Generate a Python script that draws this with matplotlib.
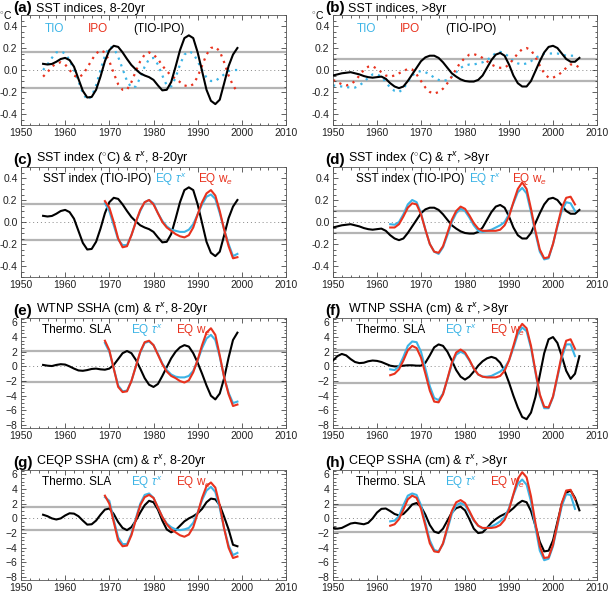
import matplotlib
matplotlib.use('Agg')
import matplotlib.pyplot as plt
import numpy as np
from matplotlib.ticker import MultipleLocator

plt.rcParams['font.family'] = ['Liberation Sans', 'DejaVu Sans']
plt.rcParams['mathtext.fontset'] = 'custom'
plt.rcParams['mathtext.rm'] = 'Liberation Sans'
plt.rcParams['mathtext.it'] = 'Liberation Sans:italic'

# ---------------- data ----------------
yr_hf = list(range(1955, 2000))
yr_lf = list(range(1950, 2007))
yr_lf_tio = list(range(1950, 2006))
yr_eq_hf = list(range(1969, 2000))
yr_eq_lf = list(range(1963, 2006))

# (a) SST indices 8-20yr
sst_diff_hf = [0.056, 0.05, 0.055, 0.075, 0.10, 0.11, 0.09, 0.03, -0.08, -0.19,
               -0.25, -0.245, -0.18, -0.06, 0.08, 0.18, 0.22, 0.21, 0.16, 0.10,
               0.045, 0.005, -0.03, -0.05, -0.065, -0.09, -0.14, -0.185, -0.18, -0.11,
               0.03, 0.18, 0.29, 0.315, 0.29, 0.16, -0.01, -0.18, -0.28, -0.31,
               -0.27, -0.12, 0.035, 0.14, 0.20]
tio_hf = [0.00, 0.05, 0.11, 0.16, 0.17, 0.15, 0.09, 0.00, -0.10, -0.21,
          -0.27, -0.24, -0.14, 0.00, 0.13, 0.21, 0.20, 0.12, 0.01, -0.10,
          -0.16, -0.15, -0.07, 0.03, 0.10, 0.11, 0.05, -0.05, -0.14, -0.15,
          -0.07, 0.05, 0.14, 0.17, 0.15, 0.08, 0.00, -0.07, -0.10, -0.10,
          -0.07, -0.04, -0.01, 0.00, 0.00]
ipo_hf = [-0.06, -0.02, 0.03, 0.06, 0.07, 0.05, 0.00, -0.05, -0.07, -0.04,
          0.02, 0.09, 0.15, 0.18, 0.16, 0.08, -0.03, -0.13, -0.18, -0.18,
          -0.11, -0.01, 0.08, 0.14, 0.16, 0.14, 0.10, 0.04, -0.01, -0.05,
          -0.08, -0.11, -0.14, -0.15, -0.13, -0.06, 0.04, 0.14, 0.20, 0.21,
          0.17, 0.07, -0.05, -0.14, -0.20]

# (b) SST indices >8yr
sst_diff_lf = [-0.05, -0.04, -0.03, -0.025, -0.02, -0.03, -0.04, -0.055, -0.065, -0.07,
               -0.065, -0.06, -0.08, -0.12, -0.15, -0.165, -0.15, -0.10, -0.04, 0.02,
               0.08, 0.115, 0.13, 0.13, 0.11, 0.07, 0.02, -0.03, -0.06, -0.085,
               -0.10, -0.105, -0.105, -0.09, -0.05, 0.02, 0.09, 0.14, 0.155, 0.13,
               0.05, -0.05, -0.12, -0.15, -0.15, -0.10, -0.01, 0.08, 0.16, 0.21,
               0.22, 0.20, 0.15, 0.10, 0.075, 0.075, 0.11]
tio_lf = [-0.14, -0.145, -0.15, -0.155, -0.16, -0.16, -0.14, -0.11, -0.07, -0.04,
          -0.04, -0.06, -0.11, -0.16, -0.19, -0.20, -0.17, -0.11, -0.05, -0.02,
          -0.01, -0.02, -0.04, -0.07, -0.09, -0.10, -0.09, -0.06, -0.02, 0.02,
          0.04, 0.05, 0.05, 0.06, 0.07, 0.09, 0.12, 0.155, 0.165, 0.15,
          0.12, 0.08, 0.06, 0.05, 0.06, 0.08, 0.11, 0.13, 0.15, 0.15,
          0.15, 0.15, 0.14, 0.13, 0.13, 0.13]
ipo_lf = [-0.09, -0.11, -0.13, -0.14, -0.13, -0.10, -0.05, 0.00, 0.03, 0.035,
          0.01, -0.02, -0.05, -0.06, -0.05, -0.03, -0.01, 0.01, 0.005, -0.04,
          -0.10, -0.16, -0.20, -0.215, -0.20, -0.17, -0.12, -0.06, 0.01, 0.07,
          0.11, 0.14, 0.145, 0.13, 0.11, 0.08, 0.05, 0.03, 0.02, 0.02,
          0.05, 0.10, 0.15, 0.19, 0.20, 0.18, 0.12, 0.04, -0.03, -0.07,
          -0.07, -0.05, -0.02, 0.02, 0.05, 0.05, 0.02]

# (c) EQ taux / we 8-20yr (SST units)
taux_c = [0.17, 0.10, -0.03, -0.16, -0.21, -0.21, -0.12, 0.0, 0.10, 0.18,
          0.20, 0.17, 0.08, 0.01, -0.04, -0.07, -0.08, -0.09, -0.09, -0.07,
          -0.02, 0.07, 0.16, 0.23, 0.25, 0.21, 0.08, -0.07, -0.20, -0.31,
          -0.29]
we_c = [0.19, 0.13, 0.0, -0.15, -0.23, -0.22, -0.12, 0.0, 0.11, 0.18,
        0.20, 0.16, 0.08, 0.0, -0.05, -0.08, -0.11, -0.13, -0.14, -0.12,
        -0.05, 0.07, 0.18, 0.26, 0.29, 0.24, 0.10, -0.07, -0.22, -0.33,
        -0.32]

# (d) EQ taux / we >8yr (SST units)
taux_d = [-0.02, -0.025, 0.0, 0.07, 0.16, 0.20, 0.18, 0.08, -0.07, -0.20,
          -0.27, -0.29, -0.23, -0.12, 0.0, 0.08, 0.12, 0.10, 0.04, -0.03,
          -0.08, -0.09, -0.08, -0.07, -0.05, -0.03, 0.0, 0.07, 0.17, 0.27,
          0.31, 0.26, 0.09, -0.10, -0.27, -0.34, -0.33, -0.20, -0.04, 0.10,
          0.18, 0.17, 0.10]
we_d = [-0.05, -0.05, -0.02, 0.05, 0.13, 0.17, 0.16, 0.07, -0.07, -0.20,
        -0.27, -0.28, -0.22, -0.10, 0.02, 0.10, 0.14, 0.12, 0.06, -0.01,
        -0.06, -0.08, -0.08, -0.08, -0.08, -0.07, -0.03, 0.05, 0.18, 0.30,
        0.36, 0.30, 0.12, -0.08, -0.25, -0.33, -0.32, -0.20, -0.03, 0.13,
        0.22, 0.23, 0.16]

# (e) WTNP SSHA 8-20yr
wtnp_hf = [0.2, 0.1, 0.05, 0.2, 0.3, 0.25, 0.0, -0.3, -0.55, -0.6,
           -0.5, -0.35, -0.3, -0.4, -0.45, -0.3, 0.2, 1.0, 1.8, 2.1,
           1.8, 0.9, -0.3, -1.6, -2.5, -2.8, -2.4, -1.3, -0.1, 1.1,
           2.0, 2.6, 2.9, 2.7, 1.8, 0.5, -1.0, -2.6, -4.0, -4.5,
           -3.7, -1.6, 1.2, 3.6, 4.6]
taux_e = [3.2, 2.0, -0.3, -2.6, -3.4, -3.3, -2.0, 0.0, 1.9, 3.2,
          3.4, 2.9, 1.7, 0.4, -0.5, -1.1, -1.4, -1.5, -1.5, -1.3,
          -0.6, 0.8, 2.5, 3.8, 4.3, 3.6, 1.3, -1.5, -3.6, -5.0,
          -4.8]
we_e = [3.5, 2.2, -0.3, -2.8, -3.5, -3.4, -2.0, 0.0, 2.0, 3.3,
        3.5, 2.9, 1.6, 0.3, -0.7, -1.3, -1.6, -2.0, -2.2, -1.9,
        -0.8, 0.9, 2.9, 4.6, 5.2, 4.3, 1.5, -1.5, -3.8, -5.4,
        -5.2]

# (f) WTNP SSHA >8yr
wtnp_lf = [0.8, 1.4, 1.7, 1.5, 1.0, 0.6, 0.45, 0.5, 0.7, 0.8,
           0.75, 0.6, 0.35, 0.1, 0.0, 0.0, 0.1, 0.15, 0.15, 0.1,
           0.1, 0.5, 1.5, 2.6, 3.0, 2.8, 2.0, 0.8, -0.5, -1.4,
           -1.8, -1.4, -0.7, 0.1, 0.7, 1.1, 1.3, 1.1, 0.5, -0.6,
           -2.2, -4.0, -5.6, -6.9, -7.2, -6.3, -4.2, -1.2, 1.8, 3.7,
           4.0, 3.2, 1.4, -0.6, -1.7, -1.0, 1.4]
taux_f = [-0.4, -0.5, 0.0, 1.3, 2.8, 3.4, 3.3, 2.0, -0.3, -2.7,
          -4.3, -4.6, -3.7, -1.8, 0.3, 1.6, 2.0, 1.7, 0.8, -0.3,
          -1.1, -1.4, -1.4, -1.3, -1.0, -0.7, -0.2, 0.8, 2.5, 4.4,
          5.3, 4.8, 2.5, -0.8, -4.0, -5.7, -5.7, -4.2, -1.5, 1.2,
          3.0, 3.0, 1.4]
we_f = [-1.2, -1.0, -0.4, 0.8, 2.2, 2.8, 2.5, 1.2, -1.0, -3.3,
        -4.8, -4.9, -3.8, -1.7, 0.5, 1.9, 2.3, 1.9, 0.9, -0.3,
        -1.1, -1.4, -1.5, -1.5, -1.5, -1.3, -0.6, 0.8, 2.8, 4.9,
        5.8, 5.2, 2.8, -0.6, -3.8, -5.5, -5.6, -4.1, -1.3, 1.6,
        3.5, 3.7, 2.4]

# (g) CEQP SSHA 8-20yr
ceqp_hf = [0.5, 0.3, 0.0, -0.15, 0.0, 0.4, 0.7, 0.65, 0.3, -0.3,
           -0.85, -0.8, -0.3, 0.5, 1.2, 1.35, 0.6, -0.5, -1.3, -1.6,
           -1.2, -0.3, 0.8, 1.8, 2.4, 2.2, 1.2, -0.3, -1.5, -1.9,
           -1.6, -1.0, -0.4, 0.0, 0.3, 0.7, 1.3, 2.2, 2.7, 2.6,
           1.8, 0.2, -1.5, -3.6, -3.8]
taux_g = [2.9, 2.4, -0.2, -2.6, -3.5, -3.5, -2.1, 0.0, 2.0, 3.2,
          3.4, 2.8, 1.5, 0.2, -0.7, -1.2, -1.5, -1.6, -1.5, -1.3,
          -0.6, 0.8, 2.5, 3.8, 4.3, 3.6, 1.4, -1.4, -3.7, -5.0,
          -4.7]
we_g = [3.1, 2.0, -0.5, -3.0, -3.8, -3.7, -2.3, -0.2, 1.8, 2.9,
        3.2, 2.8, 1.5, 0.2, -0.8, -1.5, -1.9, -2.3, -2.5, -2.2,
        -1.2, 0.7, 2.8, 4.4, 4.9, 4.2, 1.8, -1.4, -4.0, -5.4,
        -5.2]

# (h) CEQP SSHA >8yr
ceqp_lf = [-1.3, -1.4, -1.3, -1.0, -0.7, -0.6, -0.7, -0.8, -0.6, 0.0,
           0.8, 1.3, 1.35, 1.0, 0.6, 0.4, 0.6, 1.2, 1.9, 2.1,
           1.6, 0.5, -0.9, -1.8, -2.0, -1.4, -0.3, 0.8, 1.4, 1.6,
           1.1, -0.1, -1.4, -2.0, -1.9, -1.3, -0.6, -0.1, 0.3, 0.6,
           0.9, 1.4, 2.0, 2.4, 2.2, 1.0, -1.0, -3.2, -4.5, -4.4,
           -3.0, -0.5, 2.0, 3.5, 3.8, 2.8, 1.1]
taux_h = [-0.4, -0.3, 0.3, 1.8, 3.1, 3.4, 3.2, 1.8, -0.6, -3.0,
          -4.3, -4.5, -3.5, -1.5, 0.6, 1.8, 2.1, 1.8, 0.8, -0.3,
          -1.0, -1.4, -1.3, -1.1, -0.8, -0.4, 0.2, 1.4, 3.2, 4.7,
          5.3, 4.6, 2.3, -1.2, -4.4, -5.7, -5.5, -3.8, -1.0, 1.7,
          3.3, 3.2, 1.3]
we_h = [-1.0, -0.8, -0.1, 1.2, 2.6, 3.1, 2.8, 1.3, -1.0, -3.4,
        -4.5, -4.6, -3.4, -1.2, 1.0, 2.2, 2.5, 2.1, 1.0, -0.2,
        -1.0, -1.3, -1.3, -1.3, -1.2, -0.9, -0.2, 1.2, 3.3, 5.4,
        6.3, 5.6, 3.0, -0.6, -3.8, -5.4, -5.3, -3.6, -0.8, 2.1,
        3.8, 3.9, 2.6]

# significance levels (gray lines)
sig = {'a': 0.165, 'b': 0.10, 'c': 0.165, 'd': 0.10,
       'e': 2.1, 'f': 2.3, 'g': 1.6, 'h': 1.8}

titles = {
    'a': 'SST indices, 8-20yr',
    'b': 'SST indices, >8yr',
    'c': r'SST index ($^{\circ}$C) & $\tau^x$, 8-20yr',
    'd': r'SST index ($^{\circ}$C) & $\tau^x$, >8yr',
    'e': r'WTNP SSHA (cm) & $\tau^x$, 8-20yr',
    'f': r'WTNP SSHA (cm) & $\tau^x$, >8yr',
    'g': r'CEQP SSHA (cm) & $\tau^x$, 8-20yr',
    'h': r'CEQP SSHA (cm) & $\tau^x$, >8yr',
}

BLUE = '#3cb4e6'
RED = '#e8321e'

W, H = 609, 597
fig = plt.figure(figsize=(W / 100, H / 100), dpi=100)

col_left = [21, 333]
col_w = [265, 264]
row_top = [15, 167, 318, 470]
row_h = 110


def make_ax(col, row):
    l = col_left[col] / W
    b = 1 - (row_top[row] + row_h) / H
    ax = fig.add_axes([l, b, col_w[col] / W, row_h / H])
    return ax


def style(ax, key, sst):
    ax.set_xlim(1950, 2010)
    ax.xaxis.set_major_locator(MultipleLocator(10))
    ax.xaxis.set_minor_locator(MultipleLocator(2))
    if sst:
        ax.set_ylim(-0.5, 0.5)
        ax.set_yticks([-0.4, -0.2, 0.0, 0.2, 0.4])
        ax.set_yticklabels(['-0.4', '-0.2', '0.0', '0.2', '0.4'])
        ax.yaxis.set_minor_locator(MultipleLocator(0.05))
    else:
        ax.set_ylim(-8.4, 6.6)
        ax.set_yticks([-8, -6, -4, -2, 0, 2, 4, 6])
        ax.yaxis.set_minor_locator(MultipleLocator(0.5))
    ax.tick_params(which='both', direction='in', top=True, right=True,
                   labelsize=7.5, colors='#222222', pad=2.5, width=0.5)
    ax.tick_params(which='major', length=3.5)
    ax.tick_params(which='minor', length=1.8)
    for s in ax.spines.values():
        s.set_linewidth(0.6)
        s.set_color('#555555')
    s = sig[key]
    ax.axhline(s, color='#b4b4b4', lw=1.6, zorder=1)
    ax.axhline(-s, color='#b4b4b4', lw=1.6, zorder=1)
    ax.axhline(0, color='#888888', lw=0.7, ls=(0, (1, 3)), zorder=1)
    ax.text(-0.028, 1.0, '(' + key + ')', transform=ax.transAxes,
            fontsize=11, fontweight='bold', ha='left', va='bottom')
    ax.text(0.055, 1.004, titles[key], transform=ax.transAxes,
            fontsize=9, ha='left', va='bottom')


panels = {}
layout = {'a': (0, 0), 'b': (1, 0), 'c': (0, 1), 'd': (1, 1),
          'e': (0, 2), 'f': (1, 2), 'g': (0, 3), 'h': (1, 3)}
for k, (c, r) in layout.items():
    panels[k] = make_ax(c, r)
    style(panels[k], k, r < 2)

dot = (0, (1, 2.2))
LWB = 1.5
LWC = 1.5
FS_IN = 8.5

for key, ty, iy, dy, yr_t in (('a', tio_hf, ipo_hf, sst_diff_hf, yr_hf),
                              ('b', tio_lf, ipo_lf, sst_diff_lf, yr_lf_tio)):
    ax = panels[key]
    yr_d = yr_hf if key == 'a' else yr_lf
    ax.plot(yr_t, ty, color=BLUE, lw=1.6, ls=dot, zorder=2)
    ax.plot(yr_d, iy, color=RED, lw=1.6, ls=dot, zorder=2)
    ax.plot(yr_d, dy, color='black', lw=LWB, zorder=3)
    ax.text(-0.082, 1.0, r'$^{\circ}$C', transform=ax.transAxes,
            fontsize=7.5, ha='left', va='center')
    ax.text(1955.3, 0.37, 'TIO', color=BLUE, fontsize=FS_IN, va='center')
    ax.text(1965.2, 0.37, 'IPO', color=RED, fontsize=FS_IN, va='center')
    ax.text(1975.5, 0.37, '(TIO-IPO)', color='black', fontsize=FS_IN, va='center')


def eq_panel(ax, yb, black, ye, tx, we, ylab, lab_black, x_lab):
    ax.plot(yb, black, color='black', lw=LWB, zorder=3)
    ax.plot(ye, tx, color=BLUE, lw=LWC, zorder=4)
    ax.plot(ye, we, color=RED, lw=LWC, zorder=5)
    ax.text(x_lab[0], ylab, lab_black, color='black', fontsize=FS_IN, va='center')
    ax.text(x_lab[1], ylab, r'EQ $\tau^x$', color=BLUE, fontsize=FS_IN, va='center')
    ax.text(x_lab[2], ylab, r'EQ w$_e$', color=RED, fontsize=FS_IN, va='center')


eq_panel(panels['c'], yr_hf, sst_diff_hf, yr_eq_hf, taux_c, we_c, 0.39,
         'SST index (TIO-IPO)', (1955, 1980.3, 1990))
eq_panel(panels['d'], yr_lf, sst_diff_lf, yr_eq_lf, taux_d, we_d, 0.39,
         'SST index (TIO-IPO)', (1955.3, 1980.8, 1990.6))
eq_panel(panels['e'], yr_hf, wtnp_hf, yr_eq_hf, taux_e, we_e, 4.9,
         'Thermo. SLA', (1954.8, 1975, 1985))
eq_panel(panels['f'], yr_lf, wtnp_lf, yr_eq_lf, taux_f, we_f, 4.9,
         'Thermo. SLA', (1955.3, 1975.5, 1985.6))
eq_panel(panels['g'], yr_hf, ceqp_hf, yr_eq_hf, taux_g, we_g, 4.9,
         'Thermo. SLA', (1954.8, 1975, 1985))
eq_panel(panels['h'], yr_lf, ceqp_lf, yr_eq_lf, taux_h, we_h, 4.9,
         'Thermo. SLA', (1955.3, 1975.5, 1985.6))

fig.savefig('out.png', dpi=100)
